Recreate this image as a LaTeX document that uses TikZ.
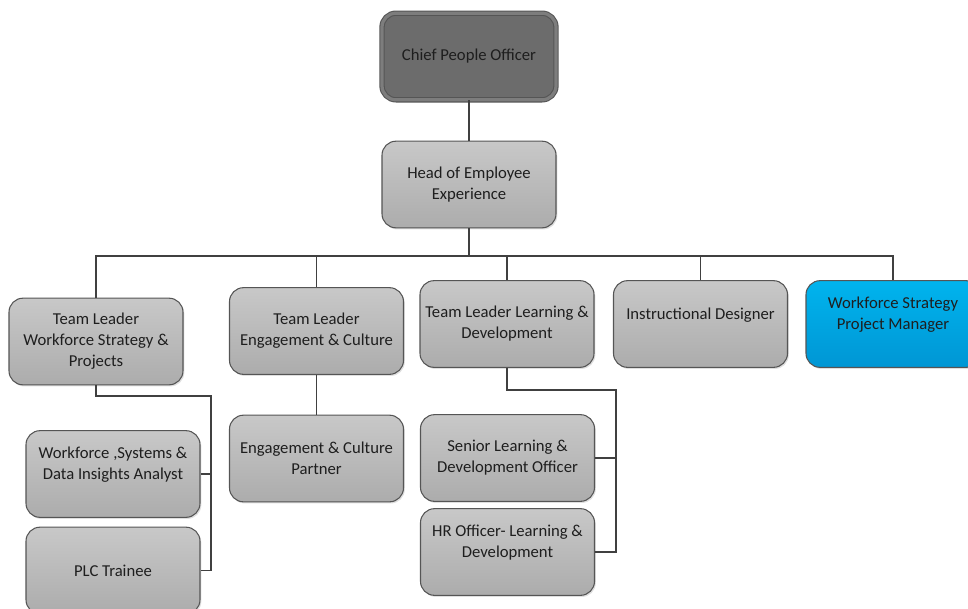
\documentclass[tikz,border=0pt]{standalone}
\usepackage{fontspec}
\setmainfont{Carlito}
\usetikzlibrary{shadows}

\definecolor{boxTop}{RGB}{200,200,200}
\definecolor{boxBot}{RGB}{172,172,172}
\definecolor{boxLine}{RGB}{85,85,85}
\definecolor{chiefIn}{RGB}{108,108,108}
\definecolor{chiefBand}{RGB}{125,125,125}
\definecolor{blueTop}{RGB}{0,180,238}
\definecolor{blueBot}{RGB}{0,150,212}
\definecolor{wire}{RGB}{64,64,64}
\definecolor{ink}{RGB}{30,30,30}

\tikzset{
  post/.style={draw=boxLine, line width=0.8pt, rounded corners=10.5pt,
    minimum width=130.5pt, minimum height=65pt, align=center, inner sep=1pt,
    top color=boxTop, bottom color=boxBot, text=ink,
    font=\fontsize{12.5}{15.75}\selectfont,
    drop shadow={opacity=0.25, shadow xshift=1pt, shadow yshift=-1.2pt}},
  chief/.style={post, top color=chiefIn, bottom color=chiefIn,
    draw=boxLine, double=chiefBand, double distance=2.4pt},
  project/.style={post, top color=blueTop, bottom color=blueBot},
  wire/.style={draw=wire, line width=1pt}
}

\begin{document}
\begin{tikzpicture}[x=0.75pt,y=0.75pt,yscale=-1,xscale=1]
\useasboundingbox (0,0) rectangle (968,608);
%Top of the chart
\node [chief] (cpo) at (469,56.5) {Chief People Officer};
\node [post] (hee) at (469,184.5) {Head of Employee\\Experience};
%Team leaders and direct reports
\node [post] (tlwsp) at (96,341.5) {Team Leader\\Workforce Strategy \&\\Projects};
\node [post] (tlec) at (316.5,331) {Team Leader\\Engagement \& Culture};
\node [post] (tlld) at (507,324) {Team Leader Learning \&\\Development};
\node [post] (idsg) at (700.5,324) {Instructional Designer\\~};
\node [project] (wspm) at (893,324) {Workforce Strategy\\Project Manager\\~};
%Third level
\node [post] (wsda) at (113,474) {Workforce ,Systems \&\\Data Insights Analyst\\~};
\node [post] (plc) at (113,570.5) {PLC Trainee};
\node [post] (ecp) at (316.5,458.5) {Engagement \& Culture\\Partner};
\node [post] (sldo) at (507.5,458) {Senior Learning \&\\Development Officer};
\node [post] (hrld) at (507.5,552) {HR Officer- Learning \&\\Development\\~};
%Junction points
\coordinate (bus) at (469,256);
\coordinate (wsj) at (211,396);
\coordinate (ldj) at (616,390);
%Connectors
\draw [wire] (cpo) -- (hee);
\draw [wire, line width=1.8pt] (hee) -- (bus);
\foreach \n in {tlwsp,tlec,tlld,idsg,wspm}
  \draw [wire] (bus) -| (\n.north);
\draw [wire] (tlwsp.south) |- (wsj) |- (plc.east);
\draw [wire] (wsj) |- (wsda.east);
\draw [wire] (tlec) -- (ecp);
\draw [wire] (tlld.south) |- (ldj) |- (hrld.east);
\draw [wire] (ldj) |- (sldo.east);
\end{tikzpicture}
\end{document}
